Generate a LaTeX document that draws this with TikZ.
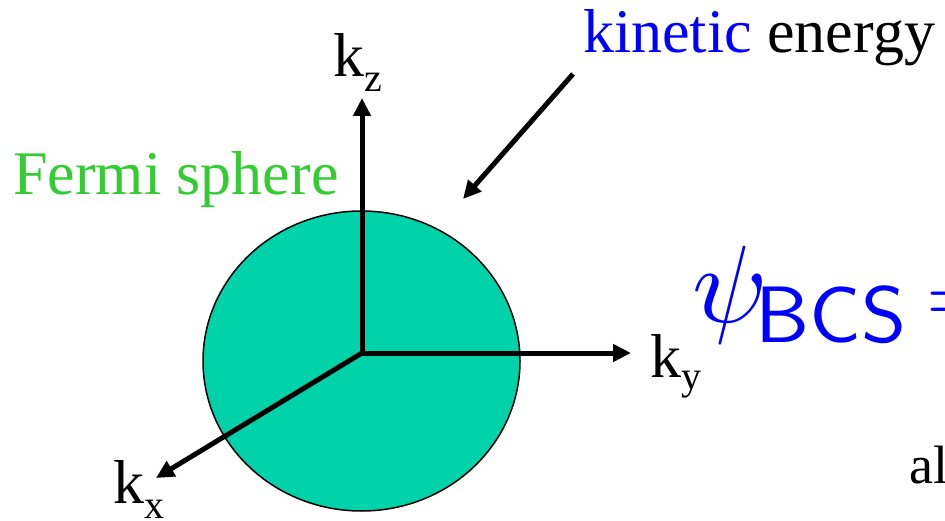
\documentclass[tikz,border=0pt]{standalone}
\usepackage{fontspec}
\setmainfont{Liberation Serif}
\usetikzlibrary{arrows.meta,shapes.geometric}
\definecolor{sph}{RGB}{0,210,170}
\definecolor{fgreen}{RGB}{51,204,51}
\definecolor{kblue}{RGB}{0,0,255}
\begin{document}
\begin{tikzpicture}[x=1pt,y=-1pt,
  ax/.style={line width=5pt,-{Triangle[length=18pt,width=17pt]}},
  lbl/.style={inner sep=0pt,anchor=base west,font=\fontsize{62}{62}\selectfont},
  subs/.style={font=\fontsize{40}{40}\selectfont}]
\clip (0,0) rectangle (945,521);
\fill[white] (0,0) rectangle (945,521);
\node (sphere) [ellipse, draw=black, line width=1.5pt, fill=sph, minimum width=317pt, minimum height=300pt, inner sep=0pt] at (361.5,361) {};
\coordinate (O) at (362,353);
\coordinate (Z) at (362,98);
\coordinate (Y) at (631,353);
\coordinate (X) at (156,478);
\coordinate (KS) at (573,74);
\coordinate (KE) at (463,199);
\draw[ax] (O) -- (Z);
\draw[ax] (O) -- (Y);
\draw[ax] (O) -- (X);
\draw[ax] (KS) -- (KE);
\node[lbl] (kz) at (333,77) {k\raisebox{-15pt}{\fontsize{40}{40}\selectfont z}};
\node[lbl] (ky) at (650,377) {k\raisebox{-13pt}{\fontsize{40}{40}\selectfont y}};
\node[lbl] (kx) at (113,503) {k\raisebox{-15pt}{\fontsize{40}{40}\selectfont x}};
\node[lbl,text=fgreen] (fermi) at (13,195) {Fermi sphere};
\node[lbl] (ke) at (583,53) {\textcolor{kblue}{kinetic} energy};
\node[inner sep=0pt,anchor=base west,scale=11,text=kblue] (psi) at (690,323) {$\psi$};
\node[inner sep=0pt,anchor=base west,text=kblue,xscale=1.08,font=\sffamily\fontsize{80}{80}\selectfont] (bcs) at (755,342) {BCS};
\node[inner sep=0pt,anchor=base west,scale=8.3,text=kblue] (eq) at (925,323) {$=$};
\node[lbl,font=\fontsize{54}{54}\selectfont] (al) at (909,483) {al};
\end{tikzpicture}
\end{document}
